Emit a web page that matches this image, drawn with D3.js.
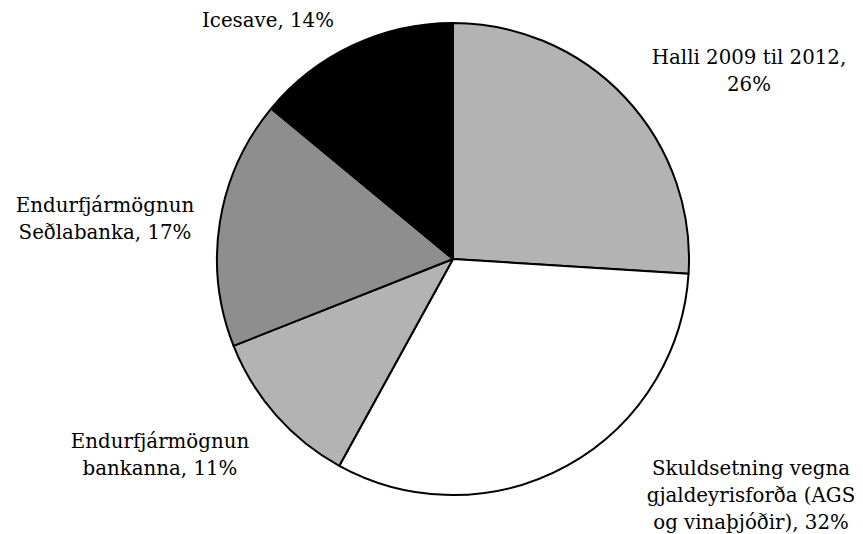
<!DOCTYPE html>
<html>
<head>
<meta charset="utf-8">
<script src="https://cdn.jsdelivr.net/npm/d3@7"></script>
<style>
  html, body { margin: 0; padding: 0; background: #fff; }
  svg { display: block; }
  text { font-family: "DejaVu Serif", "Liberation Serif", serif; fill: #000; }
</style>
</head>
<body>
<svg id="chart" width="863" height="534"></svg>
<script>
// Slice categories (label lines) and their shares in percent
const categories = [
  ["Halli 2009 til 2012,", "26%"],
  ["Skuldsetning vegna", "gjaldeyrisforða (AGS", "og vinaþjóðir), 32%"],
  ["Endurfjármögnun", "bankanna, 11%"],
  ["Endurfjármögnun", "Seðlabanka, 17%"],
  ["Icesave, 14%"]
];
const shares = [26, 32, 11, 17, 14];
const fills = ["#b3b3b3", "#ffffff", "#b3b3b3", "#8e8e8e", "#000000"];

// Label anchor points (centre of first text line)
const labelPos = [[749, 57], [751, 468], [160, 441], [105, 205], [268, 20]];

const svg = d3.select("#chart");
const cx = 453, cy = 259, r = 236;

const data = shares.map((v, i) => ({ value: v, lines: categories[i], fill: fills[i], pos: labelPos[i] }));

const pie = d3.pie().value(d => d.value).sort(null);
const arc = d3.arc().innerRadius(0).outerRadius(r);

const g = svg.append("g").attr("transform", `translate(${cx},${cy})`);
g.selectAll("path")
  .data(pie(data))
  .join("path")
  .attr("d", arc)
  .attr("fill", d => d.data.fill)
  .attr("stroke", "#000")
  .attr("stroke-width", 2)
  .attr("stroke-linejoin", "round");

const lineH = 27;
svg.selectAll("text.lbl")
  .data(data)
  .join("text")
  .attr("class", "lbl")
  .attr("text-anchor", "middle")
  .attr("font-size", 19.8)
  .each(function (d) {
    const t = d3.select(this);
    d.lines.forEach((ln, j) => {
      t.append("tspan")
        .attr("x", d.pos[0])
        .attr("y", d.pos[1] + j * lineH)
        .attr("dy", "0.35em")
        .text(ln);
    });
  });
</script>
</body>
</html>
